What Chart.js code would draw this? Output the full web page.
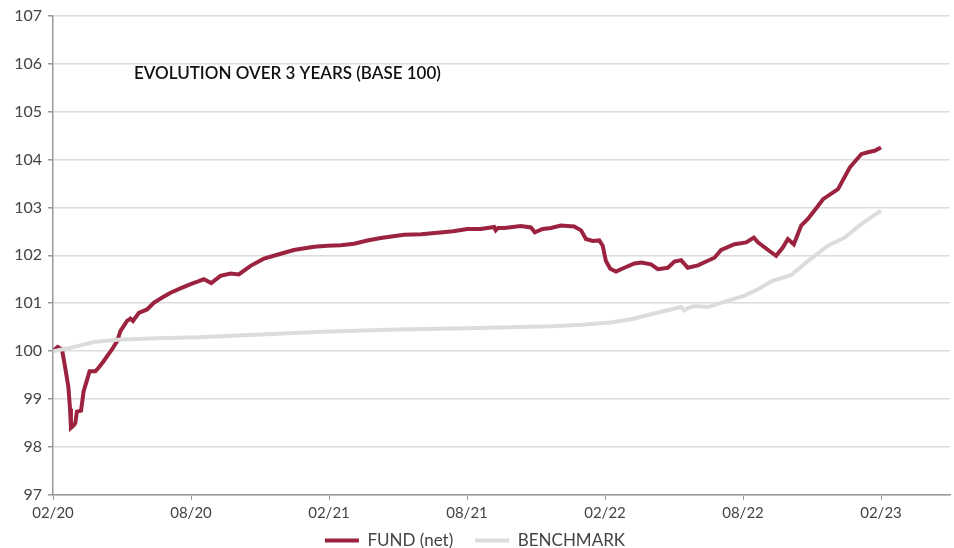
<!DOCTYPE html>
<html lang="en">
<head>
  <meta charset="UTF-8" />
  <title>Evolution over 3 years (base 100)</title>
  <script src="https://cdn.jsdelivr.net/npm/chart.js"></script>
  <style>
    html, body { margin: 0; padding: 0; background: #fff; }
    .chart-wrapper { position: relative; width: 954px; height: 548px; }
  </style>
</head>
<body>
<div class="chart-wrapper">
  <canvas id="perfChart"></canvas>
</div>

<script>
// months since 02/2020
const fundMonths = [0, 0.2, 0.39, 0.55, 0.67, 0.74, 0.78, 0.9, 0.97, 1.04, 1.22, 1.33, 1.59, 1.84, 1.99, 2.2, 2.57, 2.79, 2.93, 3.22,
  3.37, 3.48, 3.73, 4.09, 4.38, 4.75, 5.11, 5.54, 5.98, 6.34, 6.56, 6.88, 7.28, 7.72, 8.08, 8.59, 9.17, 9.6, 10.47, 11.35,
  11.93, 12.51, 13.09, 13.67, 14.25, 15.26, 16.0, 16.72, 17.4, 18.02, 18.6, 19.18, 19.25, 19.35, 19.62, 20.34, 20.78, 20.95, 21.29, 21.65,
  22.08, 22.66, 22.96, 23.17, 23.46, 23.75, 23.9, 24.04, 24.23, 24.48, 24.84, 25.28, 25.57, 26.0, 26.3, 26.73, 27.02, 27.31, 27.6, 28.04,
  28.4, 28.76, 29.05, 29.63, 30.14, 30.47, 30.65, 31.15, 31.44, 31.73, 31.95, 32.21, 32.53, 32.82, 33.26, 33.48, 34.13, 34.64, 35.14, 35.43,
  35.72, 36.0];
const fundValues = [100.00, 100.09, 100.04, 99.60, 99.25, 98.80, 98.40, 98.45, 98.50, 98.74, 98.76, 99.16, 99.58, 99.58, 99.66, 99.79, 100.04, 100.21, 100.42, 100.63,
  100.68, 100.63, 100.80, 100.87, 101.01, 101.12, 101.22, 101.31, 101.40, 101.46, 101.50, 101.42, 101.57, 101.62, 101.60, 101.78, 101.93, 101.99, 102.11, 102.18,
  102.20, 102.21, 102.24, 102.31, 102.36, 102.43, 102.44, 102.47, 102.50, 102.55, 102.55, 102.59, 102.52, 102.57, 102.57, 102.61, 102.58, 102.48, 102.55, 102.57,
  102.62, 102.60, 102.52, 102.34, 102.30, 102.31, 102.20, 101.88, 101.72, 101.66, 101.74, 101.83, 101.85, 101.81, 101.71, 101.74, 101.87, 101.90, 101.74, 101.79,
  101.87, 101.95, 102.11, 102.23, 102.27, 102.37, 102.27, 102.09, 101.99, 102.16, 102.34, 102.23, 102.62, 102.76, 103.03, 103.17, 103.38, 103.83, 104.11, 104.15,
  104.18, 104.25];

const benchMonths = [0, 0.75, 1.77, 2.79, 4.5, 6.34, 9, 12, 15, 18, 21.65, 23, 24.26, 25.2, 26.0, 27.31, 27.45, 27.6, 27.89, 28.47,
  29.19, 30.06, 30.65, 31.22, 31.37, 32.1, 32.82, 33.69, 34.42, 35.14, 36.0];
const benchValues = [100.00, 100.07, 100.19, 100.24, 100.27, 100.29, 100.35, 100.41, 100.45, 100.48, 100.52, 100.55, 100.60, 100.67, 100.77, 100.92, 100.85, 100.90, 100.94, 100.92,
  101.03, 101.16, 101.29, 101.45, 101.48, 101.59, 101.88, 102.20, 102.37, 102.65, 102.93];

const xTickPos = [0, 6, 12, 18, 24, 30, 36];
const xTickLabels = ['02/20', '08/20', '02/21', '08/21', '02/22', '08/22', '02/23'];

const chartTitle = 'EVOLUTION OVER 3 YEARS (BASE 100)';

const toPoints = (xs, ys) => xs.map((x, i) => ({ x, y: ys[i] }));

const titlePlugin = {
  id: 'innerTitle',
  afterLayout(chart) {
    // x axis box is kept short so the legend sits close; let its labels overflow it
    chart.scales.x.bottom = chart.height;
  },
  afterDraw(chart) {
    const { ctx, chartArea } = chart;
    ctx.save();
    ctx.font = '600 17px Lato, "Noto Sans", sans-serif';
    ctx.fillStyle = '#111';
    ctx.textBaseline = 'middle';
    ctx.fillText(chartTitle, chartArea.left + 81, 74);
    ctx.restore();
  }
};

const ctx = document.getElementById('perfChart').getContext('2d');
new Chart(ctx, {
  type: 'line',
  data: {
    datasets: [
      {
        label: 'BENCHMARK',
        data: toPoints(benchMonths, benchValues),
        borderColor: '#dcdcdc',
        backgroundColor: '#dcdcdc',
        borderWidth: 4,
        pointRadius: 0,
        tension: 0,
        fill: false
      },
      {
        label: 'FUND (net)',
        data: toPoints(fundMonths, fundValues),
        borderColor: '#9c2340',
        backgroundColor: '#9c2340',
        borderWidth: 4,
        pointRadius: 0,
        tension: 0,
        fill: false
      }
    ]
  },
  options: {
    responsive: true,
    maintainAspectRatio: false,
    animation: false,
    layout: { padding: { top: 8, right: 4, left: 0, bottom: -11 } },
    plugins: {
      tooltip: { enabled: false },
      legend: {
        position: 'bottom',
        reverse: true,
        labels: {
          usePointStyle: true,
          pointStyle: 'line',
          pointStyleWidth: 34,
          boxHeight: 17,
          padding: 22,
          color: '#444',
          font: { family: 'Lato, "Noto Sans", sans-serif', size: 17 }
        }
      }
    },
    scales: {
      x: {
        type: 'linear',
        min: 0,
        max: 39,
        afterBuildTicks: scale => { scale.ticks = xTickPos.map(v => ({ value: v })); },
        afterFit: scale => { scale.height = 15; },
        ticks: {
          autoSkip: false,
          maxRotation: 0,
          color: '#444',
          padding: 4,
          font: { family: 'Lato, "Noto Sans", sans-serif', size: 15 },
          callback: value => xTickLabels[xTickPos.indexOf(value)]
        },
        grid: { drawOnChartArea: false, drawTicks: true, tickLength: 5, tickColor: '#999' },
        border: { color: '#999', width: 1.5 }
      },
      y: {
        min: 97,
        max: 107,
        afterFit: scale => { scale.width = 53; },
        ticks: {
          stepSize: 1,
          color: '#444',
          padding: 6,
          font: { family: 'Lato, "Noto Sans", sans-serif', size: 16 }
        },
        grid: { color: '#dcdcdc', lineWidth: 1.5, tickLength: 5, tickColor: '#999' },
        border: { color: '#999', width: 1.5 }
      }
    }
  },
  plugins: [titlePlugin]
});
</script>
</body>
</html>
